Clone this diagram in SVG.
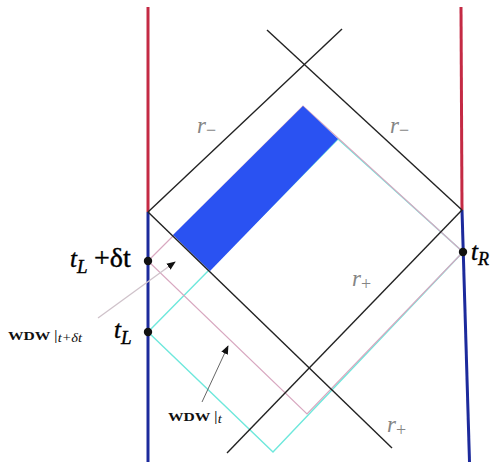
<svg xmlns="http://www.w3.org/2000/svg" width="499" height="464" viewBox="0 0 499 464">
<style>
.bk{stroke:#222;stroke-width:1.4;fill:none}
.pk{stroke:#d8a8c0;stroke-width:1.2;fill:none}
.cy{stroke:#6ee8dc;stroke-width:1.4;fill:none}
.red{stroke:#c42a44;stroke-width:3;fill:none}
.blu{stroke:#1c2a9c;stroke-width:3;fill:none}
.rl{font-family:"Liberation Serif",serif;font-style:italic;font-size:23px;fill:#858585}
.tl{font-family:"Liberation Serif",serif;font-style:italic;font-size:25px;fill:#000;stroke:#000;stroke-width:0.4}
.wd{font-family:"Liberation Serif",serif;font-size:13px;font-weight:bold;fill:#111}
</style>
<defs>
<marker id="ah" viewBox="0 0 10 10" refX="9" refY="5" markerWidth="9" markerHeight="9" markerUnits="userSpaceOnUse" orient="auto">
<path d="M0,1 L10,5 L0,9 Z" fill="#111"/>
</marker>
</defs>
<rect width="499" height="464" fill="#fff"/>
<g id="boundaries">
<line class="red" x1="148" y1="7" x2="148" y2="212"/>
<line class="blu" x1="148" y1="212" x2="148" y2="462"/>
<line class="red" x1="461" y1="7" x2="462" y2="210"/>
<line class="blu" x1="462" y1="210" x2="469.5" y2="462"/>
</g>
<g id="wdw-t">
<polygon class="cy" points="148,332 338,139 463,252 273,452"/>
</g>
<g id="wdw-tdt">
<polygon class="pk" points="148,261 303,106 463,252 307,414"/>
</g>
<g id="shaded">
<polygon points="303,106 338,139 210,271 173,235" fill="#2a52f2"/>
</g>
<g id="horizons">
<line class="bk" x1="148" y1="212" x2="342" y2="29"/>
<line class="bk" x1="267" y1="30" x2="462" y2="210"/>
<line class="bk" x1="148" y1="212" x2="392" y2="448"/>
<line class="bk" x1="462" y1="210" x2="227" y2="453"/>
</g>
<g id="connectors">
<line x1="98" y1="318" x2="175" y2="262" stroke="#cfc2ca" stroke-width="1.2" marker-end="url(#ah)"/>
<line x1="202" y1="402" x2="228" y2="346" stroke="#666" stroke-width="1" marker-end="url(#ah)"/>
</g>
<g id="points">
<circle cx="148" cy="261" r="4.2" fill="#111"/>
<circle cx="148" cy="332" r="4.2" fill="#111"/>
<circle cx="463" cy="252" r="4.2" fill="#111"/>
</g>
<g id="labels">
<text class="rl" x="197" y="133">r<tspan font-size="18" dy="3" font-style="normal">−</tspan></text>
<text class="rl" x="390" y="133">r<tspan font-size="18" dy="3" font-style="normal">−</tspan></text>
<text class="rl" x="352" y="286">r<tspan font-size="18" dy="4" font-style="normal">+</tspan></text>
<text class="rl" x="387" y="432">r<tspan font-size="18" dy="4" font-style="normal">+</tspan></text>
<text class="tl" x="70" y="267">t<tspan font-size="19" dy="6">L</tspan><tspan x="94" dy="-6" font-style="normal" font-size="28">+δt</tspan></text>
<text class="tl" x="114" y="338">t<tspan font-size="19" dy="6">L</tspan></text>
<text class="tl" x="471" y="260">t<tspan font-size="18" dy="5">R</tspan></text>
<text class="wd" transform="translate(8,340) scale(1.2,1)">WDW <tspan font-weight="normal" font-size="15">|</tspan><tspan font-weight="normal" font-style="italic" font-size="12" dy="2">t+δt</tspan></text>
<text class="wd" transform="translate(168,421) scale(1.2,1)">WDW <tspan font-weight="normal" font-size="15">|</tspan><tspan font-weight="normal" font-style="italic" font-size="12" dy="2">t</tspan></text>
</g>
</svg>
